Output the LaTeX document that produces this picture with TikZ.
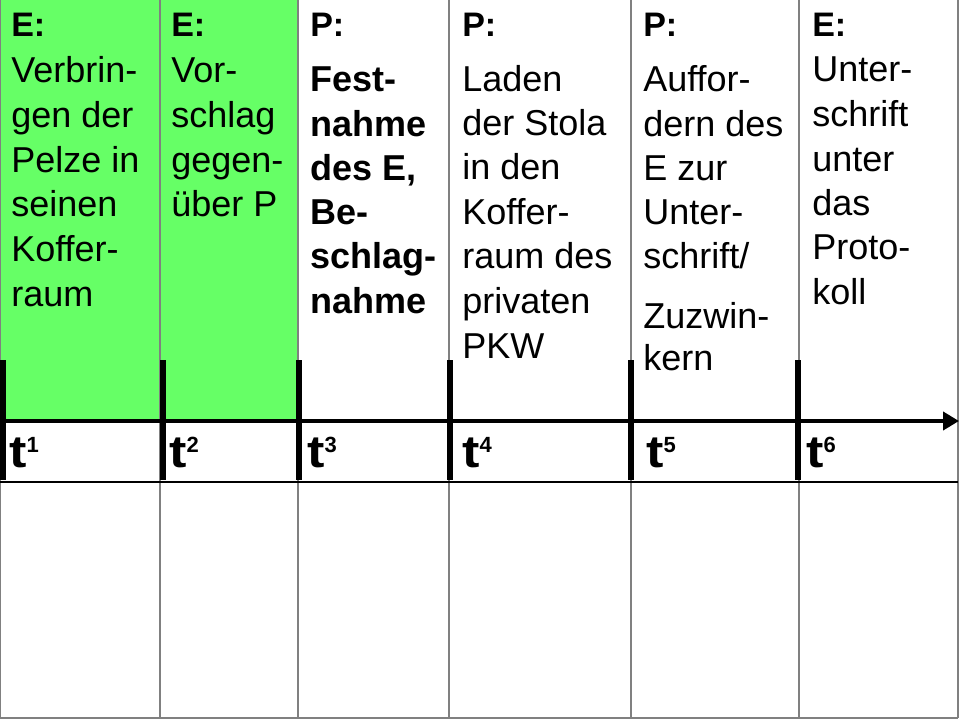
\documentclass[tikz,border=0pt]{standalone}
\usepackage{fontspec}
\setmainfont{Liberation Sans}
\usetikzlibrary{arrows.meta}
\definecolor{lgreen}{HTML}{66FF66}
\definecolor{gridgray}{HTML}{808080}
\tikzset{
  txt/.style={anchor=base west, inner sep=0pt, font=\fontsize{27}{32}\selectfont},
  lab/.style={anchor=base west, inner sep=0pt, font=\fontsize{25.5}{30}\selectfont\bfseries},
  tlab/.style={anchor=base west, inner sep=0pt, font=\fontsize{34}{38}\selectfont\bfseries},
  gridline/.style={draw=gridgray, line width=1.1pt},
  tickmark/.style={draw=black, line width=4.5pt},
  axisline/.style={draw=black, line width=3.5pt, -{Triangle[length=12pt,width=13.5pt]}},
}
\newcommand\tsup[1]{\scalebox{1.15}[1]{t}\raisebox{11.25pt}{\fontsize{16.5}{18}\selectfont\bfseries #1}}
\newcommand\colstack[3]{%
  \foreach \yy/\ltext [count=\i] in {#3} {\node[txt, name=#1-\i] at (#2,\yy) {\ltext};}}
\begin{document}
\begin{tikzpicture}[x=0.75pt,y=-0.75pt]
\useasboundingbox (0,0) rectangle (960,720);
% green background
\fill[lgreen] (0,0) rectangle (298,421);
% grid
\foreach \x in {160,298,449,631,799} \draw[gridline] (\x,0) -- (\x,718);
\draw[gridline] (0.7,0) -- (0.7,718);
\draw[gridline] (958,0) -- (958,718);
\draw[gridline] (0,718) -- (958,718);
\draw[black, line width=0.9pt] (0,482) -- (958,482);
% ticks
\foreach \x in {3,163,299,450,631,798} \draw[tickmark] (\x,360) -- (\x,480);
% axis
\coordinate (a0) at (0,421);
\coordinate (a1) at (959,421);
\draw[axisline] (a0) -- (a1);
% column headers
\node[lab, name=h1] at (11,37) {E:};
\node[lab, name=h2] at (171,37) {E:};
\node[lab, name=h3] at (310,37) {P:};
\node[lab, name=h4] at (462,37) {P:};
\node[lab, name=h5] at (643,37) {P:};
\node[lab, name=h6] at (812,37) {E:};
% column texts
\colstack{c1}{11}{83/Verbrin-, 128/gen der, 173/Pelze in, 217/seinen, 262/Koffer-, 306/raum}
\colstack{c2}{171}{83/Vor-, 128/schlag, 173/gegen-, 217/über P}
\colstack{c3}{310}{92/\bfseries Fest-, 137/\bfseries nahme, 181/{\bfseries des E,}, 225/\bfseries Be-, 269/\bfseries schlag-, 314/\bfseries nahme}
\colstack{c4}{462}{92/Laden, 136/der Stola, 180/in den, 225/Koffer-, 269/raum des, 313/privaten, 358/PKW}
\colstack{c5}{643}{92/Auffor-, 137/dern des, 181/E zur, 225/Unter-, 269/{schrift/}, 328/Zuzwin-, 370/kern}
\colstack{c6}{812}{82/Unter-, 127/schrift, 172/unter, 216/das, 260/Proto-, 305/koll}
% time labels
\node[tlab, name=t1] at (9,467) {\tsup{1}};
\node[tlab, name=t2] at (169,467) {\tsup{2}};
\node[tlab, name=t3] at (307,467) {\tsup{3}};
\node[tlab, name=t4] at (462,467) {\tsup{4}};
\node[tlab, name=t5] at (646,467) {\tsup{5}};
\node[tlab, name=t6] at (806,467) {\tsup{6}};
\end{tikzpicture}
\end{document}
